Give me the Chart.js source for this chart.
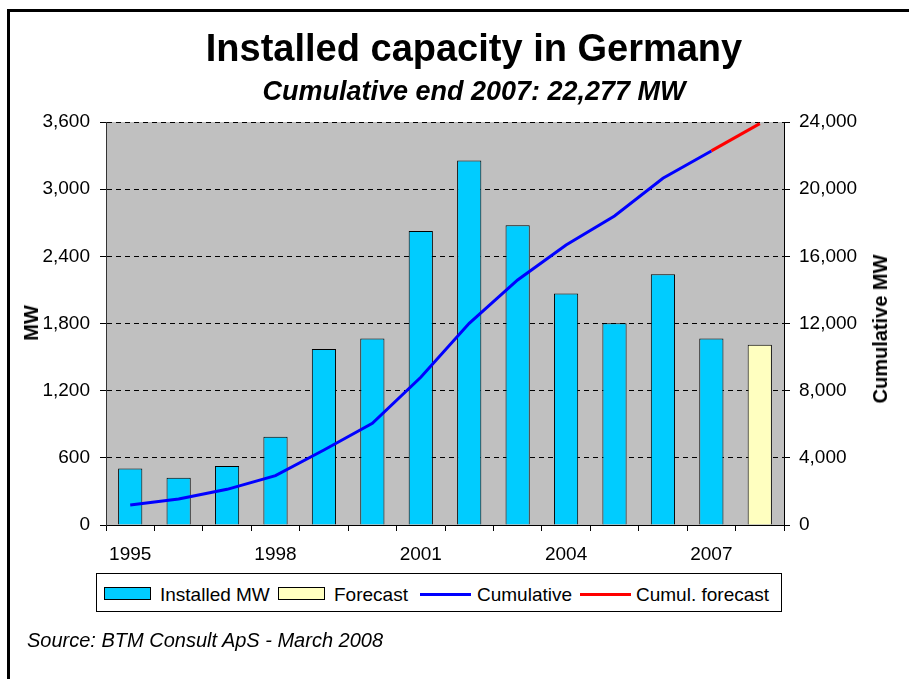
<!DOCTYPE html>
<html>
<head>
<meta charset="utf-8">
<script src="https://cdn.jsdelivr.net/npm/chart.js@4/dist/chart.umd.min.js"></script>
<style>
  html, body { margin: 0; padding: 0; background: #fff; overflow: hidden; }
  body { width: 909px; height: 679px; position: relative; font-family: "Liberation Sans", Arial, sans-serif; color: #000; }
  canvas { position: absolute; left: 0; top: 0; }
  .abs { position: absolute; white-space: nowrap; line-height: 1; }
  #frame { position: absolute; left: 7px; top: 9px; width: 1000px; height: 1000px; border-left: 3px solid #000; border-top: 3px solid #000; }
  #title { left: 0; width: 948px; text-align: center; top: 29px; font-size: 38px; font-weight: bold; }
  #subtitle { left: 0; width: 948px; text-align: center; top: 78px; font-size: 27px; font-weight: bold; font-style: italic; }
  .axtitle { position: absolute; font-size: 20px; font-weight: bold; white-space: nowrap; line-height: 1; transform: translate(-50%, -50%) rotate(-90deg); }
  #legend { position: absolute; left: 96px; top: 573px; width: 686px; height: 39px; border: 1px solid #000; box-sizing: border-box; background: #fff; }
  .sw { position: absolute; height: 13px; width: 47px; border: 1px solid #000; box-sizing: border-box; }
  .ln { position: absolute; height: 3px; width: 51px; }
  .lt { position: absolute; font-size: 19px; line-height: 1; white-space: nowrap; }
  #source { left: 27px; top: 630px; font-size: 20px; font-style: italic; }
</style>
</head>
<body>
<div id="frame"></div>
<canvas id="c" width="909" height="679"></canvas>
<div id="title" class="abs">Installed capacity in Germany</div>
<div id="subtitle" class="abs">Cumulative end 2007: 22,277 MW</div>
<div class="axtitle" style="left:31px; top:323px;">MW</div>
<div class="axtitle" style="left:880px; top:329px;">Cumulative MW</div>
<div id="legend"></div>
<div id="source" class="abs">Source: BTM Consult ApS - March 2008</div>
<script>
// ---- Data ----
const years = ['1995','1996','1997','1998','1999','2000','2001','2002','2003','2004','2005','2006','2007','2008'];
const installedMW = [505, 423, 527, 789, 1573, 1665, 2627, 3256, 2678, 2067, 1802, 2240, 1665, null];
const forecastMW = [null, null, null, null, null, null, null, null, null, null, null, null, null, 1611];
const cumulativeMW = [1191, 1548, 2124, 2938, 4467, 6055, 8795, 12013, 14592, 16677, 18404, 20648, 22277, null];
const cumulForecastMW = [null, null, null, null, null, null, null, null, null, null, null, null, 22277, 23900];
const leftTicks = [0, 600, 1200, 1800, 2400, 3000, 3600];
const rightTicks = [0, 4000, 8000, 12000, 16000, 20000, 24000];
const seriesNames = ['Installed MW', 'Forecast', 'Cumulative', 'Cumul. forecast'];

const FONT = '"Liberation Sans", Arial, sans-serif';
const colors = { installed: '#00CCFF', forecast: '#FFFFC0', cumul: '#0000FF', cumulF: '#FF0000' };

const bgPlugin = {
  id: 'bg',
  beforeDraw(chart) {
    const { ctx, chartArea: a } = chart;
    ctx.save();
    ctx.fillStyle = '#C0C0C0';
    ctx.fillRect(a.left, a.top, a.right - a.left, a.bottom - a.top);
    ctx.restore();
  }
};

new Chart(document.getElementById('c'), {
  type: 'bar',
  data: {
    labels: years,
    datasets: [
      { type: 'line', label: seriesNames[2], data: cumulativeMW, yAxisID: 'y1', borderColor: colors.cumul, borderWidth: 3, pointRadius: 0, tension: 0, order: 0, spanGaps: false },
      { type: 'line', label: seriesNames[3], data: cumulForecastMW, yAxisID: 'y1', borderColor: colors.cumulF, borderWidth: 3, pointRadius: 0, tension: 0, order: 0 },
      { type: 'bar', label: seriesNames[0], data: installedMW, yAxisID: 'y', backgroundColor: colors.installed, borderColor: '#000', borderWidth: 1, grouped: false, barPercentage: 0.5, categoryPercentage: 1.0, order: 1 },
      { type: 'bar', label: seriesNames[1], data: forecastMW, yAxisID: 'y', backgroundColor: colors.forecast, borderColor: '#000', borderWidth: 1, grouped: false, barPercentage: 0.5, categoryPercentage: 1.0, order: 1 }
    ]
  },
  options: {
    responsive: false,
    animation: false,
    devicePixelRatio: 1,
    layout: { padding: { top: 122, left: 0, right: 0, bottom: 0 } },
    plugins: { legend: { display: false }, tooltip: { enabled: false }, title: { display: false } },
    scales: {
      x: {
        offset: true,
        grid: { display: true, drawOnChartArea: false, offset: true, color: '#000', tickLength: 6, tickColor: '#000' },
        border: { display: true, color: '#000', width: 1 },
        ticks: {
          autoSkip: false, maxRotation: 0, minRotation: 0, padding: 12, color: '#000',
          font: { family: FONT, size: 19 },
          callback: function(v, i) { return i % 3 === 0 ? years[i] : ''; }
        },
        afterFit(s) { s.height = 154; }
      },
      y: {
        position: 'left', min: 0, max: 3600,
        afterBuildTicks(s) { s.ticks = leftTicks.map(v => ({ value: v })); },
        grid: { color: '#000', lineWidth: 1, tickLength: 6, tickColor: '#000', tickBorderDash: [] },
        border: { display: true, color: '#333', width: 1, dash: [5, 4] },
        ticks: { padding: 10, color: '#000', font: { family: FONT, size: 19 }, callback: v => v.toLocaleString('en-US') },
        afterFit(s) { s.width = 106; }
      },
      y1: {
        position: 'right', min: 0, max: 24000,
        afterBuildTicks(s) { s.ticks = rightTicks.map(v => ({ value: v })); },
        grid: { drawOnChartArea: false, color: '#000', tickLength: 6, tickColor: '#000' },
        border: { display: true, color: '#000', width: 1 },
        ticks: { padding: 9, color: '#000', font: { family: FONT, size: 19 }, callback: v => v.toLocaleString('en-US') },
        afterFit(s) { s.width = 125; }
      }
    }
  },
  plugins: [bgPlugin]
});

// ---- HTML legend ----
const legend = document.getElementById('legend');
const items = [
  { kind: 'sw', color: colors.installed, x: 7, tx: 63, text: seriesNames[0] },
  { kind: 'sw', color: colors.forecast, x: 181, tx: 237, text: seriesNames[1] },
  { kind: 'ln', color: colors.cumul, x: 323, tx: 380, text: seriesNames[2] },
  { kind: 'ln', color: colors.cumulF, x: 483, tx: 539, text: seriesNames[3] }
];
items.forEach(it => {
  const m = document.createElement('div');
  m.className = it.kind;
  m.style.left = it.x + 'px';
  if (it.kind === 'sw') { m.style.top = '13px'; m.style.background = it.color; }
  else { m.style.top = '19px'; m.style.background = it.color; }
  legend.appendChild(m);
  const t = document.createElement('div');
  t.className = 'lt';
  t.style.left = it.tx + 'px';
  t.style.top = '11px';
  t.textContent = it.text;
  legend.appendChild(t);
});
</script>
</body>
</html>
